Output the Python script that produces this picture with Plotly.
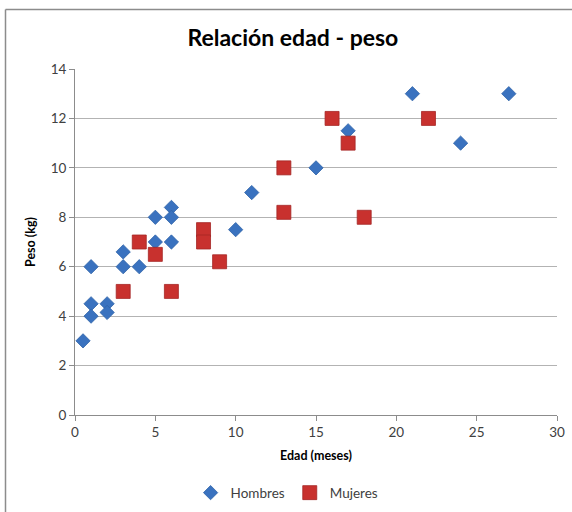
import plotly.graph_objects as go

hombres_edad = [0.5, 1, 1, 1, 2, 2, 3, 3, 4, 5, 5, 6, 6, 6, 10, 11, 15, 17, 21, 24, 27]
hombres_peso = [3, 6, 4.5, 4, 4.5, 4.15, 6.6, 6, 6, 8, 7, 8.4, 8, 7, 7.5, 9, 10, 11.5, 13, 11, 13]
mujeres_edad = [3, 4, 5, 6, 8, 8, 9, 13, 13, 16, 17, 18, 22]
mujeres_peso = [5, 7, 6.5, 5, 7.5, 7, 6.2, 10, 8.2, 12, 11, 8, 12]

x_ticks = [0, 5, 10, 15, 20, 25, 30]
y_ticks = [0, 2, 4, 6, 8, 10, 12, 14]

FONT = "Lato, 'Open Sans', sans-serif"

fig = go.Figure()
fig.add_trace(go.Scatter(
    x=hombres_edad, y=hombres_peso, mode="markers", name="Hombres",
    marker=dict(symbol="diamond", size=11, color="#3A72BF",
                line=dict(color="#2F63A8", width=0.8)),
))
fig.add_trace(go.Scatter(
    x=mujeres_edad, y=mujeres_peso, mode="markers", name="Mujeres",
    marker=dict(symbol="square", size=14, color="#C8312E",
                line=dict(color="#A52624", width=0.8)),
))

fx0 = (5.5 - 75) / 482
fy1 = (415 - 9.5) / 346

fig.update_layout(
    width=572, height=512,
    margin=dict(l=75, r=15, t=69, b=97, autoexpand=False),
    paper_bgcolor="white", plot_bgcolor="white",
    font=dict(family=FONT, color="#404040"),
    title=dict(text="<b>Relación edad - peso</b>", x=0.512, xanchor="center",
               y=1 - 38 / 512, yanchor="middle",
               font=dict(size=23, color="#000000", family=FONT)),
    xaxis=dict(range=[0, 30], tickvals=x_ticks, showgrid=False,
               showline=True, linecolor="#8c8c8c", linewidth=1,
               ticks="outside", ticklen=5, tickcolor="#8c8c8c",
               tickfont=dict(size=13.5, color="#404040"), zeroline=False,
               automargin=False,
               title=dict(text="<b>Edad (meses)</b>", standoff=12,
                          font=dict(size=12.5, color="#000000"))),
    yaxis=dict(range=[0, 14], tickvals=y_ticks, showgrid=True,
               gridcolor="#b3b3b3", gridwidth=1,
               showline=True, linecolor="#8c8c8c", linewidth=1,
               ticks="outside", ticklen=5, tickcolor="#8c8c8c",
               tickfont=dict(size=13.5, color="#404040"), zeroline=False,
               automargin=False,
               title=dict(text="<b>Peso (kg)</b>", standoff=12,
                          font=dict(size=12.5, color="#000000"))),
    showlegend=True,
    legend=dict(orientation="h", x=0.44, xanchor="center", y=-0.225,
                yanchor="middle", font=dict(size=13.5, color="#404040"),
                itemwidth=30, tracegroupgap=0),
    shapes=[
        dict(type="line", xref="paper", yref="paper",
             x0=fx0, x1=fx0, y0=-0.4, y1=fy1,
             line=dict(color="#8c8c8c", width=1.5), layer="below"),
        dict(type="line", xref="paper", yref="paper",
             x0=fx0, x1=1.2, y0=fy1, y1=fy1,
             line=dict(color="#8c8c8c", width=1.5), layer="below"),
    ],
)

fig.write_html("out.html")
